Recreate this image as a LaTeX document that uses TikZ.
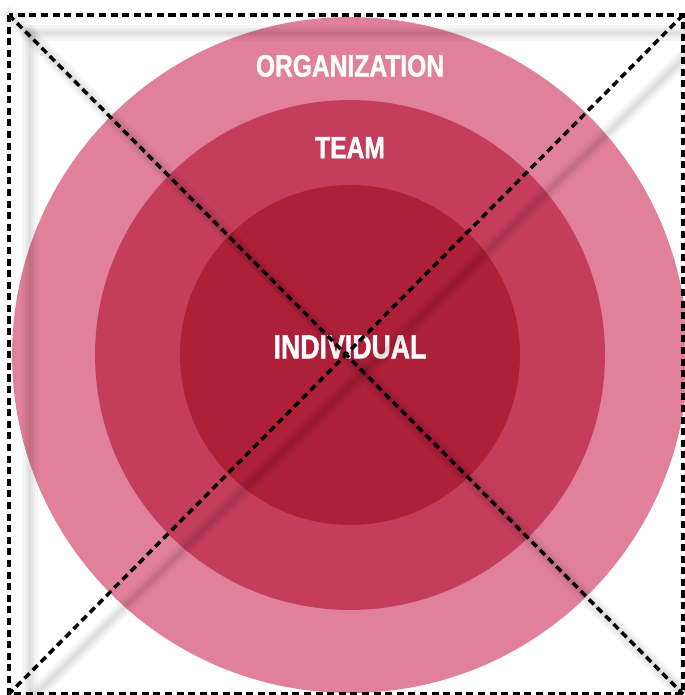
\documentclass[tikz,border=0pt]{standalone}
\usepackage{fontspec}
\usepackage{xcolor}
\usetikzlibrary{positioning}
\newfontfamily\ringfont[FakeStretch=0.8,BoldFeatures={FakeBold=1.3}]{Liberation Sans}
\definecolor{orgpink}{RGB}{224,128,154}
\definecolor{teamred}{RGB}{196,62,92}
\definecolor{indred}{RGB}{174,31,56}
\tikzset{ring node/.style={circle,draw=none,inner sep=0pt},
	label node/.style={text=white,inner sep=0pt,font=\ringfont\bfseries\fontsize{17.5}{20}\selectfont},
	frame line/.style={draw,line width=2pt,dash pattern=on 4pt off 2.6pt},
	blur line/.style={draw=black,opacity=0.035,line cap=round},}

\begin{document}
\begin{tikzpicture}[x=0.02cm,y=-0.02cm]
	\useasboundingbox (0,0) rectangle (684,695);
	\node[ring node,fill=orgpink,minimum size=13.52cm] (org) at (350,355) {};
	\node[ring node,fill=teamred,minimum size=10.2cm] (team) at (350,355) {};
	\node[ring node,fill=indred,minimum size=6.8cm] (ind) at (350,355) {};

	\node[label node] (orglabel) [below = .76cm of org.north] {ORGANIZATION};
	\node[label node] (teamlabel) [below = .74cm of team.north] {TEAM};
	\node[label node,font=\ringfont\bfseries\fontsize{19}{22}\selectfont] (indlabel) at (350,347) {INDIVIDUAL};

	% frame corners
	\coordinate (tl) at (9,15);
	\coordinate (tr) at (683,15);
	\coordinate (bl) at (9,694);
	\coordinate (br) at (683,694);

	% blurred shadow
	\coordinate (s1) at (30,33);
	\coordinate (s2) at (684,33);
	\coordinate (s3) at (30,694);
	\coordinate (s4) at (684,58);
	\coordinate (s5) at (30,700);
	\foreach \w in {9,6,3.5,1.5}{
		\path[blur line,line width=\w pt]
		(s1) edge (s2)
		(s1) edge (s3)
		(s4) edge (s5)
		(tl) edge (br)
		;
	}

	\path[frame line] (tl) rectangle (br);
	\path[frame line]
	(tl) edge (br)
	(tr) edge (bl)
	;
\end{tikzpicture}
\end{document}
